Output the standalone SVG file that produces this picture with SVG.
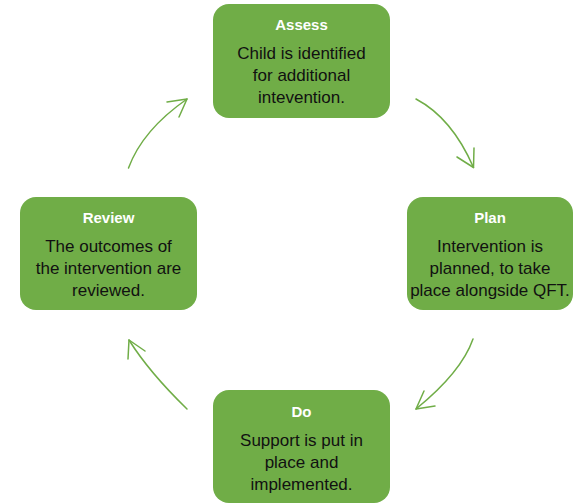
<svg xmlns="http://www.w3.org/2000/svg" width="574" height="503" viewBox="0 0 574 503">
<style>
.box{fill:#70AD47;}
.title{font-family:"Liberation Sans",Arial,sans-serif;font-size:15px;font-weight:bold;fill:#FFFFFF;text-anchor:middle;}
.body{font-family:"Liberation Sans",Arial,sans-serif;font-size:17px;fill:#111111;text-anchor:middle;}
.conn{fill:none;stroke:#70AD47;stroke-width:1.5;stroke-linecap:round;stroke-linejoin:round;}
</style>
<rect width="574" height="503" fill="#FFFFFF"/>
<g id="connectors">
  <path class="conn" d="M416,99 Q452,118 473.5,167.5"/>
  <path class="conn" d="M457,157 L473.5,167.5 L474,148"/>
  <path class="conn" d="M473,339 Q461.5,372 416,409"/>
  <path class="conn" d="M424,391 L416,409 L435,406"/>
  <path class="conn" d="M187,409 Q149,372 129,340"/>
  <path class="conn" d="M128,359 L129,340 L145,351"/>
  <path class="conn" d="M128.5,168 Q142.5,130 187,99"/>
  <path class="conn" d="M167,102 L187,99 L179,117"/>
</g>
<g id="assess">
  <rect class="box" x="213" y="4" width="177" height="114" rx="16"/>
  <text class="title" x="301.5" y="30">Assess</text>
  <text class="body" x="301.5" y="59">Child is identified</text>
  <text class="body" x="301.5" y="81">for additional</text>
  <text class="body" x="301.5" y="103">intevention.</text>
</g>
<g id="plan">
  <rect class="box" x="407" y="197" width="166" height="113" rx="16"/>
  <text class="title" x="490" y="223">Plan</text>
  <text class="body" x="490" y="252">Intervention is</text>
  <text class="body" x="490" y="274">planned, to take</text>
  <text class="body" x="490" y="296">place alongside QFT.</text>
</g>
<g id="do">
  <rect class="box" x="213" y="390" width="177" height="113" rx="16"/>
  <text class="title" x="301.5" y="416.5">Do</text>
  <text class="body" x="301.5" y="445.5">Support is put in</text>
  <text class="body" x="301.5" y="467.5">place and</text>
  <text class="body" x="301.5" y="489.5">implemented.</text>
</g>
<g id="review">
  <rect class="box" x="20" y="197" width="177" height="113" rx="16"/>
  <text class="title" x="108.5" y="223">Review</text>
  <text class="body" x="108.5" y="252">The outcomes of</text>
  <text class="body" x="108.5" y="274">the intervention are</text>
  <text class="body" x="108.5" y="296">reviewed.</text>
</g>
</svg>
